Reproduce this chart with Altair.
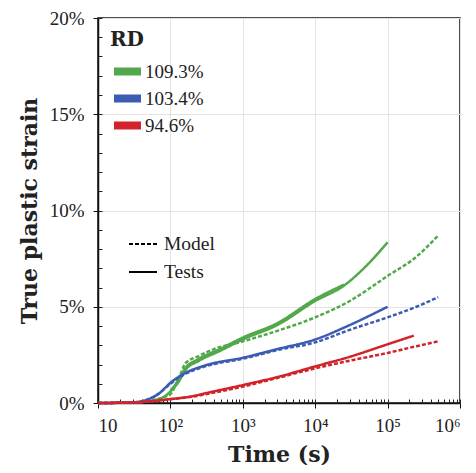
import altair as alt
import pandas as pd

# ---------------- data ----------------
RD_LEVELS = ["109.3%", "103.4%", "94.6%"]
RD_COLORS = ["#52a84a", "#3c5cb4", "#d2232a"]
KINDS = ["Model", "Tests"]

G_TEST_T = [10, 30, 50, 80, 100, 130, 160, 250, 480, 1000, 3000, 10000, 25000, 50000, 100000]
G_TEST_S = [0, 0.03, 0.1, 0.3, 0.6, 1.1, 1.7, 2.2, 2.7, 3.3, 4.05, 5.3, 6.1, 7.1, 8.35]
G_TEST2_T = [100, 130, 160, 250, 480, 1000, 3000, 10000, 25000]
G_TEST2_S = [0.65, 1.2, 1.8, 2.3, 2.8, 3.4, 4.15, 5.4, 6.15]
G_MODEL_T = [10, 30, 50, 80, 100, 120, 135, 160, 250, 400, 1000, 3000, 10000, 30000, 100000, 250000, 500000]
G_MODEL_S = [0, 0.03, 0.1, 0.3, 0.45, 1.0, 1.4, 2.05, 2.45, 2.8, 3.2, 3.75, 4.45, 5.3, 6.6, 7.6, 8.7]

B_TEST_T = [10, 30, 50, 70, 100, 150, 300, 1000, 3000, 10000, 30000, 100000]
B_TEST_S = [0, 0.03, 0.2, 0.5, 1.05, 1.5, 1.95, 2.35, 2.8, 3.3, 4.05, 5.0]
B_MODEL_T = [10, 30, 50, 70, 100, 150, 300, 1000, 3000, 10000, 30000, 100000, 250000, 500000]
B_MODEL_S = [0, 0.03, 0.2, 0.5, 1.0, 1.45, 1.9, 2.3, 2.75, 3.15, 3.8, 4.45, 5.0, 5.5]

R_TEST_T = [10, 30, 50, 100, 200, 300, 1000, 3000, 10000, 30000, 100000, 230000]
R_TEST_S = [0, 0.02, 0.08, 0.2, 0.35, 0.5, 0.93, 1.35, 1.9, 2.4, 3.05, 3.5]
R_MODEL_T = [10, 30, 50, 100, 200, 300, 1000, 3000, 10000, 30000, 100000, 250000, 500000]
R_MODEL_S = [0, 0.02, 0.08, 0.2, 0.33, 0.45, 0.85, 1.3, 1.8, 2.2, 2.6, 2.95, 3.2]

X_MAJOR = [10, 100, 1000, 10000, 100000, 1000000]
X_LABELS = ["10", "10²", "10³", "10⁴", "10⁵", "10⁶"]
X_MINOR = [m * 10 ** e for e in range(1, 6) for m in range(2, 10)]
Y_MAJOR = [0, 5, 10, 15, 20]
Y_MINOR = list(range(0, 21))

series = [
    ("g_test", "109.3%", "Tests", G_TEST_T, G_TEST_S),
    ("g_test2", "109.3%", "Tests", G_TEST2_T, G_TEST2_S),
    ("g_model", "109.3%", "Model", G_MODEL_T, G_MODEL_S),
    ("b_test", "103.4%", "Tests", B_TEST_T, B_TEST_S),
    ("b_model", "103.4%", "Model", B_MODEL_T, B_MODEL_S),
    ("r_test", "94.6%", "Tests", R_TEST_T, R_TEST_S),
    ("r_model", "94.6%", "Model", R_MODEL_T, R_MODEL_S),
]
rows = []
for sid, rd, kind, ts, ss in series:
    for i, (t, s) in enumerate(zip(ts, ss)):
        rows.append({"sid": sid, "RD": rd, "kind": kind, "t": t, "s": s, "order": i})
df = pd.DataFrame(rows)

FONT = "Liberation Serif"
TFONT = "DejaVu Serif"

x_label_expr = " : ".join(
    f"datum.value == {v} ? '{lab}'" for v, lab in zip(X_MAJOR, X_LABELS)
) + " : ''"

x_scale = alt.Scale(type="log", domain=[10, 1000000])
y_scale = alt.Scale(domain=[0, 20])

lines = alt.Chart(df).mark_line(strokeWidth=2.5, interpolate="monotone").encode(
    x=alt.X("t:Q", scale=x_scale,
            axis=alt.Axis(values=X_MAJOR, labelExpr=x_label_expr, title="Time (s)",
                          orient="bottom", grid=True, tickSize=5, labelPadding=8,
                          titlePadding=9)),
    y=alt.Y("s:Q", scale=y_scale,
            axis=alt.Axis(values=Y_MAJOR, labelExpr="datum.value + '%'",
                          title="True plastic strain", orient="left", grid=True,
                          tickSize=5, labelPadding=9, titlePadding=8)),
    color=alt.Color("RD:N", scale=alt.Scale(domain=RD_LEVELS, range=RD_COLORS),
                    legend=alt.Legend(title="RD", orient="none", legendX=12, legendY=12,
                                      symbolType="stroke", symbolSize=729,
                                      symbolStrokeWidth=8, labelFontSize=19,
                                      titleFontSize=20, titleFontWeight="bold",
                                      titleFont=TFONT, labelFont=FONT, rowPadding=0,
                                      clipHeight=27, titlePadding=8, labelOffset=0,
                                      padding=0, labelColor="#222", titleColor="#222")),
    strokeDash=alt.StrokeDash("kind:N",
                              scale=alt.Scale(domain=KINDS, range=[[4, 2], [1, 0]]),
                              legend=alt.Legend(title=None, orient="none", legendX=30,
                                                legendY=212, symbolType="stroke",
                                                symbolSize=784, symbolStrokeWidth=2,
                                                symbolStrokeColor="black",
                                                labelFontSize=19.5, labelFont=FONT,
                                                rowPadding=0, clipHeight=28,
                                                labelOffset=6, padding=0,
                                                labelColor="#222")),
    detail="sid:N",
    order="order:Q",
)

inner_ticks = alt.Chart(df).mark_line(opacity=0).encode(
    x=alt.X("t:Q", scale=x_scale,
            axis=alt.Axis(values=X_MINOR + X_MAJOR, labels=False, title=None,
                          domain=False, grid=False, orient="bottom", offset=-4,
                          tickSize=4, tickColor="#222")),
    y=alt.Y("s:Q", scale=y_scale,
            axis=alt.Axis(values=Y_MINOR, labels=False, title=None, domain=False,
                          grid=False, orient="left", offset=-4, tickSize=4,
                          tickColor="#222")),
    detail="sid:N",
)

chart = alt.layer(lines, inner_ticks).resolve_axis(x="independent", y="independent").properties(
    width=362, height=385,
    autosize=alt.AutoSizeParams(type="none"),
    padding={"left": 90, "top": 10, "right": 8, "bottom": 62},
    background="white",
).configure_view(stroke="#111", strokeWidth=1.5).configure_axis(
    labelFont=FONT, titleFont=TFONT, labelFontSize=19, titleFontSize=22,
    titleFontWeight="bold", labelColor="#222", titleColor="#222",
    domainColor="#111", domainWidth=1.5, tickColor="#111", tickWidth=1,
    gridColor="#e3e3e3", gridWidth=1,
).configure_legend(labelFont=FONT, titleFont=TFONT)

chart.save("out.html", embed_options={"renderer": "svg", "actions": False})
